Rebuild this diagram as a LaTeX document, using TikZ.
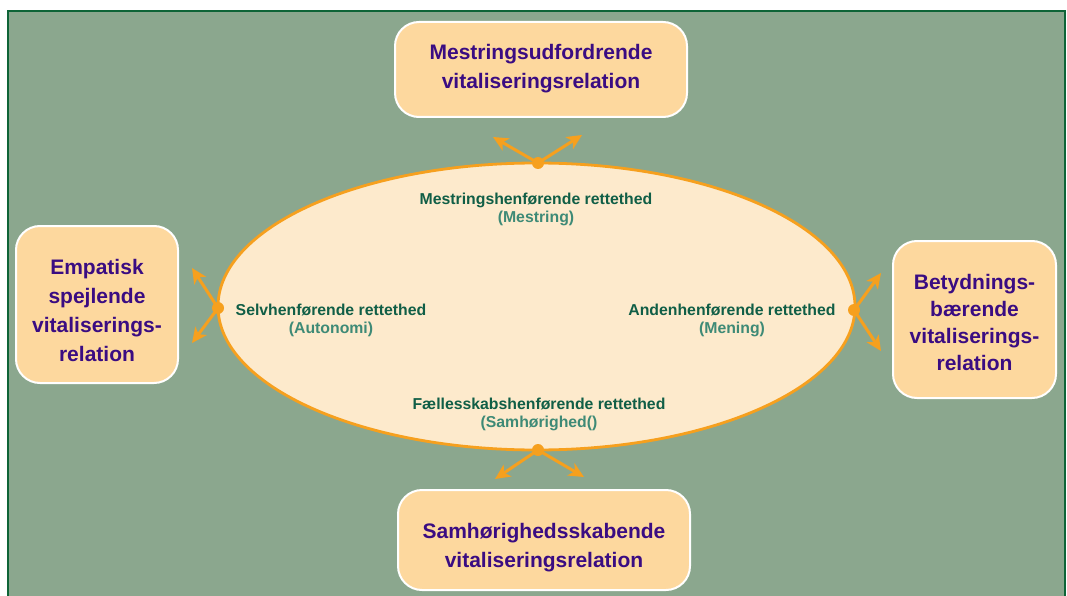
\documentclass[tikz,border=0pt]{standalone}
\usepackage{fontspec}
\setmainfont{Liberation Sans}
\usetikzlibrary{arrows.meta,shapes.geometric}
\definecolor{bggreen}{RGB}{139,167,142}
\definecolor{framegreen}{RGB}{14,100,55}
\definecolor{boxfill}{RGB}{253,216,158}
\definecolor{ellfill}{RGB}{253,234,204}
\definecolor{orangeline}{RGB}{246,160,30}
\definecolor{purpletext}{RGB}{58,12,130}
\definecolor{darkteal}{RGB}{16,94,70}
\definecolor{lightteal}{RGB}{62,138,118}
\tikzset{
  relbox/.style={draw=white, line width=2pt, fill=boxfill, rounded corners=24pt, inner sep=0pt},
  reltext/.style={align=center, text=purpletext, inner sep=0pt, font=\fontsize{21}{29}\selectfont\bfseries},
  dirtext/.style={align=center, font=\fontsize{15.8}{18}\selectfont\bfseries, text=darkteal, inner sep=0pt},
  pivot/.style={circle, fill=orangeline, minimum size=12pt, inner sep=0pt},
  dirarrow/.style={draw=orangeline, line width=3pt, -{Stealth[length=15pt,width=14pt,inset=4pt,fill=orangeline]}},
}
\begin{document}
\begin{tikzpicture}[x=1pt,y=-1pt]
\useasboundingbox (0,0) rectangle (1067,596);
\clip (0,0) rectangle (1067,596);
\fill[white] (0,0) rectangle (1067,596);
\draw[framegreen, line width=2.5pt, fill=bggreen] (8.2,11) rectangle (1065,620);

% ellipse
\node[ellipse, draw=orangeline, line width=2.8pt, fill=ellfill, minimum width=637pt, minimum height=287pt, inner sep=0pt] (ell) at (536.5,306.5) {};

% boxes
\node[relbox, minimum width=292pt, minimum height=95pt] (btop) at (541,69.5) {};
\node[relbox, minimum width=162pt, minimum height=157pt] (bleft) at (97,304.5) {};
\node[relbox, minimum width=163pt, minimum height=157pt] (bright) at (974.5,319.5) {};
\node[relbox, minimum width=292pt, minimum height=100pt] (bbot) at (544,540) {};

\node[reltext] (ttop) at (541,68.5) {Mestringsudfordrende\\vitaliseringsrelation};
\node[reltext] (tleft) at (97,310) {Empatisk\\spejlende\\vitaliserings-\\relation};
\node[reltext, font=\fontsize{21}{27}\selectfont\bfseries] (tright) at (974.5,322) {Betydnings-\\bærende\\vitaliserings-\\relation};
\node[reltext] (tbot) at (544,547.5) {Samhørighedsskabende\\vitaliseringsrelation};

% labels inside ellipse
\node[dirtext] (ltop) at (536,209) {Mestringshenførende rettethed\\\color{lightteal}(Mestring)};
\node[dirtext] (lleft) at (331,320) {Selvhenførende rettethed\\\color{lightteal}(Autonomi)};
\node[dirtext] (lright) at (732,320) {Andenhenførende rettethed\\\color{lightteal}(Mening)};
\node[dirtext] (lbot) at (539,414) {Fællesskabshenførende rettethed\\\color{lightteal}(Samhørighed()};

% pivots
\node[pivot] (ptop) at (538,163) {};
\node[pivot] (pleft) at (218,308) {};
\node[pivot] (pright) at (854,310) {};
\node[pivot] (pbot) at (538,450) {};

% arrow ends
\coordinate (tTL) at (493,137);
\coordinate (tTR) at (582,135);
\coordinate (tLU) at (192,268);
\coordinate (tLD) at (192,343);
\coordinate (tRU) at (881,273);
\coordinate (tRD) at (881,351);
\coordinate (tBL) at (495,479);
\coordinate (tBR) at (584,477);

\draw[dirarrow] (ptop.center) -- (tTL);
\draw[dirarrow] (ptop.center) -- (tTR);
\draw[dirarrow] (pleft.center) -- (tLU);
\draw[dirarrow] (pleft.center) -- (tLD);
\draw[dirarrow] (pright.center) -- (tRU);
\draw[dirarrow] (pright.center) -- (tRD);
\draw[dirarrow] (pbot.center) -- (tBL);
\draw[dirarrow] (pbot.center) -- (tBR);
\end{tikzpicture}
\end{document}
